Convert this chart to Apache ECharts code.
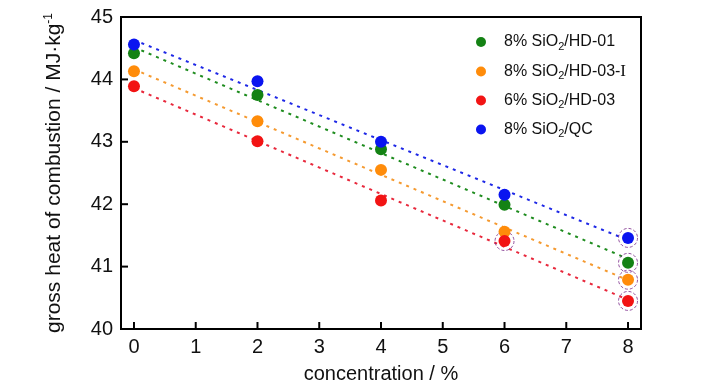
<!DOCTYPE html>
<html><head><meta charset="utf-8">
<script src="https://cdn.jsdelivr.net/npm/echarts@6/dist/echarts.min.js"></script>
<style>html,body{margin:0;padding:0;background:#fff}#c{width:727px;height:390px}</style>
</head><body><div id="c"></div>
<script>
const concentration = [0, 2, 4, 6, 8];
const seriesNames = ['8% SiO2/HD-01', '8% SiO2/HD-03-I', '6% SiO2/HD-03', '8% SiO2/QC'];
const hd01 = [44.42, 43.75, 42.88, 41.99, 41.06];
const hd03I = [44.13, 43.33, 42.55, 41.56, 40.79];
const hd03 = [43.89, 43.01, 42.06, 41.41, 40.45];
const qc = [44.56, 43.97, 43.00, 42.15, 41.46];
const colors = ['#148214', '#ff8c0a', '#f21414', '#0a14f0'];
const lineColors = ['#1e8c1e', '#f59a30', '#e8283c', '#1e28e6'];
// highlighted points: [series index, point index]
const highlighted = [[2, 3], [0, 4], [1, 4], [2, 4], [3, 4]];
const yTicks = [40, 41, 42, 43, 44, 45];
const xTicks = [0, 1, 2, 3, 4, 5, 6, 7, 8];
const xRange = [-0.21, 8.21];
const yRange = [40, 45];

const values = [hd01, hd03I, hd03, qc];
function fit(ys) {
  const n = concentration.length;
  const mx = concentration.reduce((a, b) => a + b, 0) / n;
  const my = ys.reduce((a, b) => a + b, 0) / n;
  let sxy = 0, sxx = 0;
  for (let i = 0; i < n; i++) { sxy += (concentration[i] - mx) * (ys[i] - my); sxx += (concentration[i] - mx) ** 2; }
  const k = sxy / sxx, b = my - k * mx;
  const x0 = concentration[0], x1 = concentration[n - 1];
  return [[x0, k * x0 + b], [x1, k * x1 + b]];
}
const font = 'Liberation Sans, Arial, sans-serif';
const series = [];
values.forEach((ys, i) => {
  series.push({
    type: 'line', data: fit(ys), symbol: 'none', silent: true, z: 1,
    lineStyle: { color: lineColors[i], width: 2, type: [3, 5] }
  });
});
values.forEach((ys, i) => {
  series.push({
    name: seriesNames[i], type: 'scatter', symbolSize: 12, z: 3,
    data: concentration.map((x, j) => [x, ys[j]]),
    itemStyle: { color: colors[i], opacity: 1 }
  });
});
series.push({
  type: 'scatter', symbol: 'circle', symbolSize: 19, z: 2, silent: true,
  data: highlighted.map(([s, j]) => [concentration[j], values[s][j]]),
  itemStyle: { color: 'rgba(0,0,0,0)', borderColor: '#7a2a8a', borderWidth: 1, borderType: [3, 2] }
});

const chart = echarts.init(document.getElementById('c'));
try {
chart.setOption({
  animation: false,
  grid: { left: 121, right: 86, top: 17, bottom: 61, containLabel: false, show: true, borderColor: '#000', borderWidth: 2, backgroundColor: 'transparent' },
  legend: {
    data: seriesNames, orient: 'vertical', left: 476, top: 34, itemGap: 11, padding: 0,
    icon: 'circle', itemWidth: 36, itemHeight: 10,
    textStyle: { fontSize: 16, color: '#111', fontFamily: font,
      rich: { s: { fontSize: 11, verticalAlign: 'bottom', padding: [9, 0, 0, 0], color: '#111', fontFamily: font },
              t: { fontSize: 16, color: '#111', fontFamily: font },
              r: { fontSize: 17, color: '#111', fontFamily: 'Liberation Serif, Times New Roman, serif' } } },
    formatter: function (n) {
      const m = n.match(/^(.*SiO)2(\/.*?)(-I)?$/);
      if (!m) return n;
      let s = '{t|' + m[1] + '}{s|2}{t|' + m[2] + (m[3] ? '-' : '') + '}';
      if (m[3]) s += '{r|I}';
      return s;
    }
  },
  xAxis: {
    type: 'value', min: xRange[0], max: xRange[1],
    name: 'concentration / %', nameLocation: 'middle', nameGap: 35,
    nameTextStyle: { fontSize: 20, color: '#111', fontFamily: font },
    axisLine: { show: true, onZero: false, lineStyle: { color: '#000', width: 2 } },
    axisTick: { show: false },
    axisLabel: { fontSize: 20, color: '#111', fontFamily: font, margin: 8, customValues: xTicks },
    splitLine: { show: false }
  },
  yAxis: {
    type: 'value', min: yRange[0], max: yRange[1], interval: 1,
    name: '{t|gross heat of combustion / MJ·kg}{u|-1}', nameLocation: 'middle', nameGap: 56,
    nameTextStyle: { fontSize: 21, color: '#111', fontFamily: font,
      rich: { t: { fontSize: 21, color: '#111', fontFamily: font },
              u: { fontSize: 12, color: '#111', fontFamily: font, verticalAlign: 'top', padding: [0, 0, 10, 0] } } },
    axisLine: { show: true, onZero: false, lineStyle: { color: '#000', width: 2 } },
    axisTick: { show: false },
    axisLabel: { fontSize: 20, color: '#111', fontFamily: font, margin: 8 },
    splitLine: { show: false }
  },
  series: series
});
} catch (e) { document.title = 'ERR1 ' + e; }
// inward tick marks placed through the axes' own scales
try {
  const tickLen = 7;
  const xLeft = chart.convertToPixel({ xAxisIndex: 0 }, xRange[0]);
  const yBottom = chart.convertToPixel({ yAxisIndex: 0 }, yRange[0]);
  const tickGraphics = [];
  xTicks.forEach(v => {
    const px = chart.convertToPixel({ xAxisIndex: 0 }, v);
    tickGraphics.push({ type: 'line', silent: true, z: 50,
      shape: { x1: px, y1: yBottom, x2: px, y2: yBottom - tickLen },
      style: { stroke: '#000', lineWidth: 2 } });
  });
  yTicks.forEach(v => {
    const py = chart.convertToPixel({ yAxisIndex: 0 }, v);
    tickGraphics.push({ type: 'line', silent: true, z: 50,
      shape: { x1: xLeft, y1: py, x2: xLeft + tickLen, y2: py },
      style: { stroke: '#000', lineWidth: 2 } });
  });
  chart.setOption({ graphic: { elements: tickGraphics } });
} catch (e) { document.title += ' ERR2 ' + e; }
</script></body></html>
